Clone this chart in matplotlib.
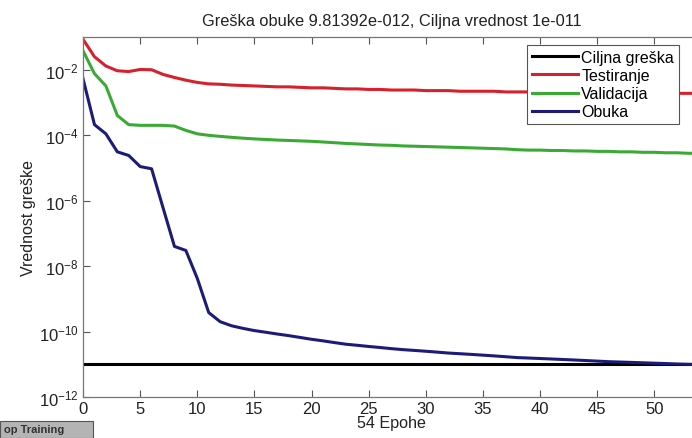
import matplotlib
matplotlib.use('Agg')
from matplotlib import pyplot as plt
from matplotlib.patches import Rectangle
import numpy as np

plt.rcParams['font.family'] = ['Liberation Sans', 'DejaVu Sans']
plt.rcParams['mathtext.fontset'] = 'custom'
plt.rcParams['mathtext.rm'] = 'Liberation Sans'
plt.rcParams['mathtext.it'] = 'Liberation Sans'

epochs = list(range(55))

# Testiranje (test)
test_err = [0.085, 0.025, 0.013, 0.0093, 0.0088, 0.0102, 0.0100, 0.0072, 0.0058, 0.0048,
            0.0041, 0.0037, 0.0036, 0.0034, 0.0033, 0.0032, 0.0031, 0.0030, 0.0030, 0.0029,
            0.0028, 0.0028, 0.0027, 0.0026, 0.0026, 0.0025, 0.0025, 0.0024, 0.0024, 0.0024,
            0.0023, 0.0023, 0.0023, 0.0022, 0.0022, 0.0022, 0.0022, 0.0021, 0.0021, 0.0021,
            0.0021, 0.0020, 0.0020, 0.0020, 0.0020, 0.0020, 0.0020, 0.0019, 0.0019, 0.0019,
            0.0019, 0.0019, 0.0019, 0.0019, 0.0019]

# Validacija (validation)
val_err = [0.038, 0.0076, 0.0032, 4.0e-4, 2.1e-4, 2.0e-4, 2.0e-4, 2.0e-4, 1.9e-4, 1.4e-4,
           1.1e-4, 9.9e-5, 9.2e-5, 8.6e-5, 8.1e-5, 7.7e-5, 7.4e-5, 7.1e-5, 6.9e-5, 6.7e-5,
           6.5e-5, 6.2e-5, 5.9e-5, 5.6e-5, 5.4e-5, 5.2e-5, 5.0e-5, 4.9e-5, 4.7e-5, 4.6e-5,
           4.5e-5, 4.4e-5, 4.3e-5, 4.2e-5, 4.1e-5, 4.0e-5, 3.9e-5, 3.8e-5, 3.6e-5, 3.5e-5,
           3.5e-5, 3.4e-5, 3.4e-5, 3.3e-5, 3.3e-5, 3.2e-5, 3.2e-5, 3.1e-5, 3.1e-5, 3.0e-5,
           3.0e-5, 2.9e-5, 2.9e-5, 2.8e-5, 2.8e-5]

# Obuka (training)
train_err = [5.3e-3, 2.1e-4, 1.1e-4, 3.1e-5, 2.4e-5, 1.1e-5, 9.4e-6, 6.1e-7, 4.0e-8, 3.0e-8,
             4.2e-9, 3.8e-10, 2.0e-10, 1.5e-10, 1.25e-10, 1.07e-10, 9.5e-11, 8.4e-11, 7.5e-11, 6.6e-11,
             5.8e-11, 5.2e-11, 4.6e-11, 4.1e-11, 3.8e-11, 3.5e-11, 3.25e-11, 3.0e-11, 2.8e-11, 2.65e-11,
             2.5e-11, 2.35e-11, 2.2e-11, 2.1e-11, 2.0e-11, 1.9e-11, 1.8e-11, 1.7e-11, 1.6e-11, 1.55e-11,
             1.5e-11, 1.45e-11, 1.4e-11, 1.35e-11, 1.3e-11, 1.25e-11, 1.2e-11, 1.17e-11, 1.14e-11, 1.11e-11,
             1.08e-11, 1.05e-11, 1.02e-11, 1.0e-11, 0.98e-11]

goal = 1e-11

ytick_exp = [-12, -10, -8, -6, -4, -2]
xtick_vals = [0, 5, 10, 15, 20, 25, 30, 35, 40, 45, 50]

fig = plt.figure(figsize=(6.92, 4.39), dpi=100)
ax = fig.add_axes([0.12, 0.0934, 0.8916, 0.82])

ax.plot([0, 54], [goal, goal], color='black', lw=2.2, label='Ciljna greška')
ax.plot(epochs, test_err, color='#d8202c', lw=2.2, label='Testiranje')
ax.plot(epochs, val_err, color='#3aaa35', lw=2.2, label='Validacija')
ax.plot(epochs, train_err, color='#1c1c78', lw=2.2, label='Obuka')

ax.set_yscale('log')
ax.set_xlim(0, 54)
ax.set_ylim(1e-12, 1e-1)
ax.set_yticks([10.0 ** e for e in ytick_exp])
ax.set_yticklabels([r'$10^{%d}$' % e for e in ytick_exp])
ax.yaxis.set_minor_locator(matplotlib.ticker.NullLocator())
ax.set_xticks(xtick_vals)
ax.tick_params(direction='in', top=True, right=True, length=5, width=0.8,
               color='#555555', labelsize=12, labelcolor='#222222', pad=3)
for s in ax.spines.values():
    s.set_color('#777777')
    s.set_linewidth(0.9)

ax.set_title('Greška obuke 9.81392e-012, Ciljna vrednost 1e-011', fontsize=11.8,
             color='#222222', pad=9)
ax.set_xlabel('54 Epohe', fontsize=11.6, color='#222222', labelpad=-1)
ax.set_ylabel('Vrednost greške', fontsize=11.5, color='#222222', labelpad=2)

leg = ax.legend(loc='upper left', bbox_to_anchor=(527 / 692, 1 - 46 / 439),
                bbox_transform=fig.transFigure, fontsize=11.5, handlelength=2.9,
                handletextpad=0.2, borderpad=0.3, borderaxespad=0, labelspacing=0.2,
                fancybox=False, framealpha=1, edgecolor='#555555')
leg.get_frame().set_linewidth(0.8)

# the cut-off button at the lower left corner
fig.patches.append(Rectangle((0, 0), 93 / 692, 17 / 439, transform=fig.transFigure,
                             facecolor='#b4b4b4', edgecolor='#555555', lw=0.8))
fig.text(4 / 692, 8.5 / 439, 'op Training', fontsize=8, fontweight='bold',
         color='#333333', va='center', ha='left')

fig.savefig('out.png', dpi=100)
